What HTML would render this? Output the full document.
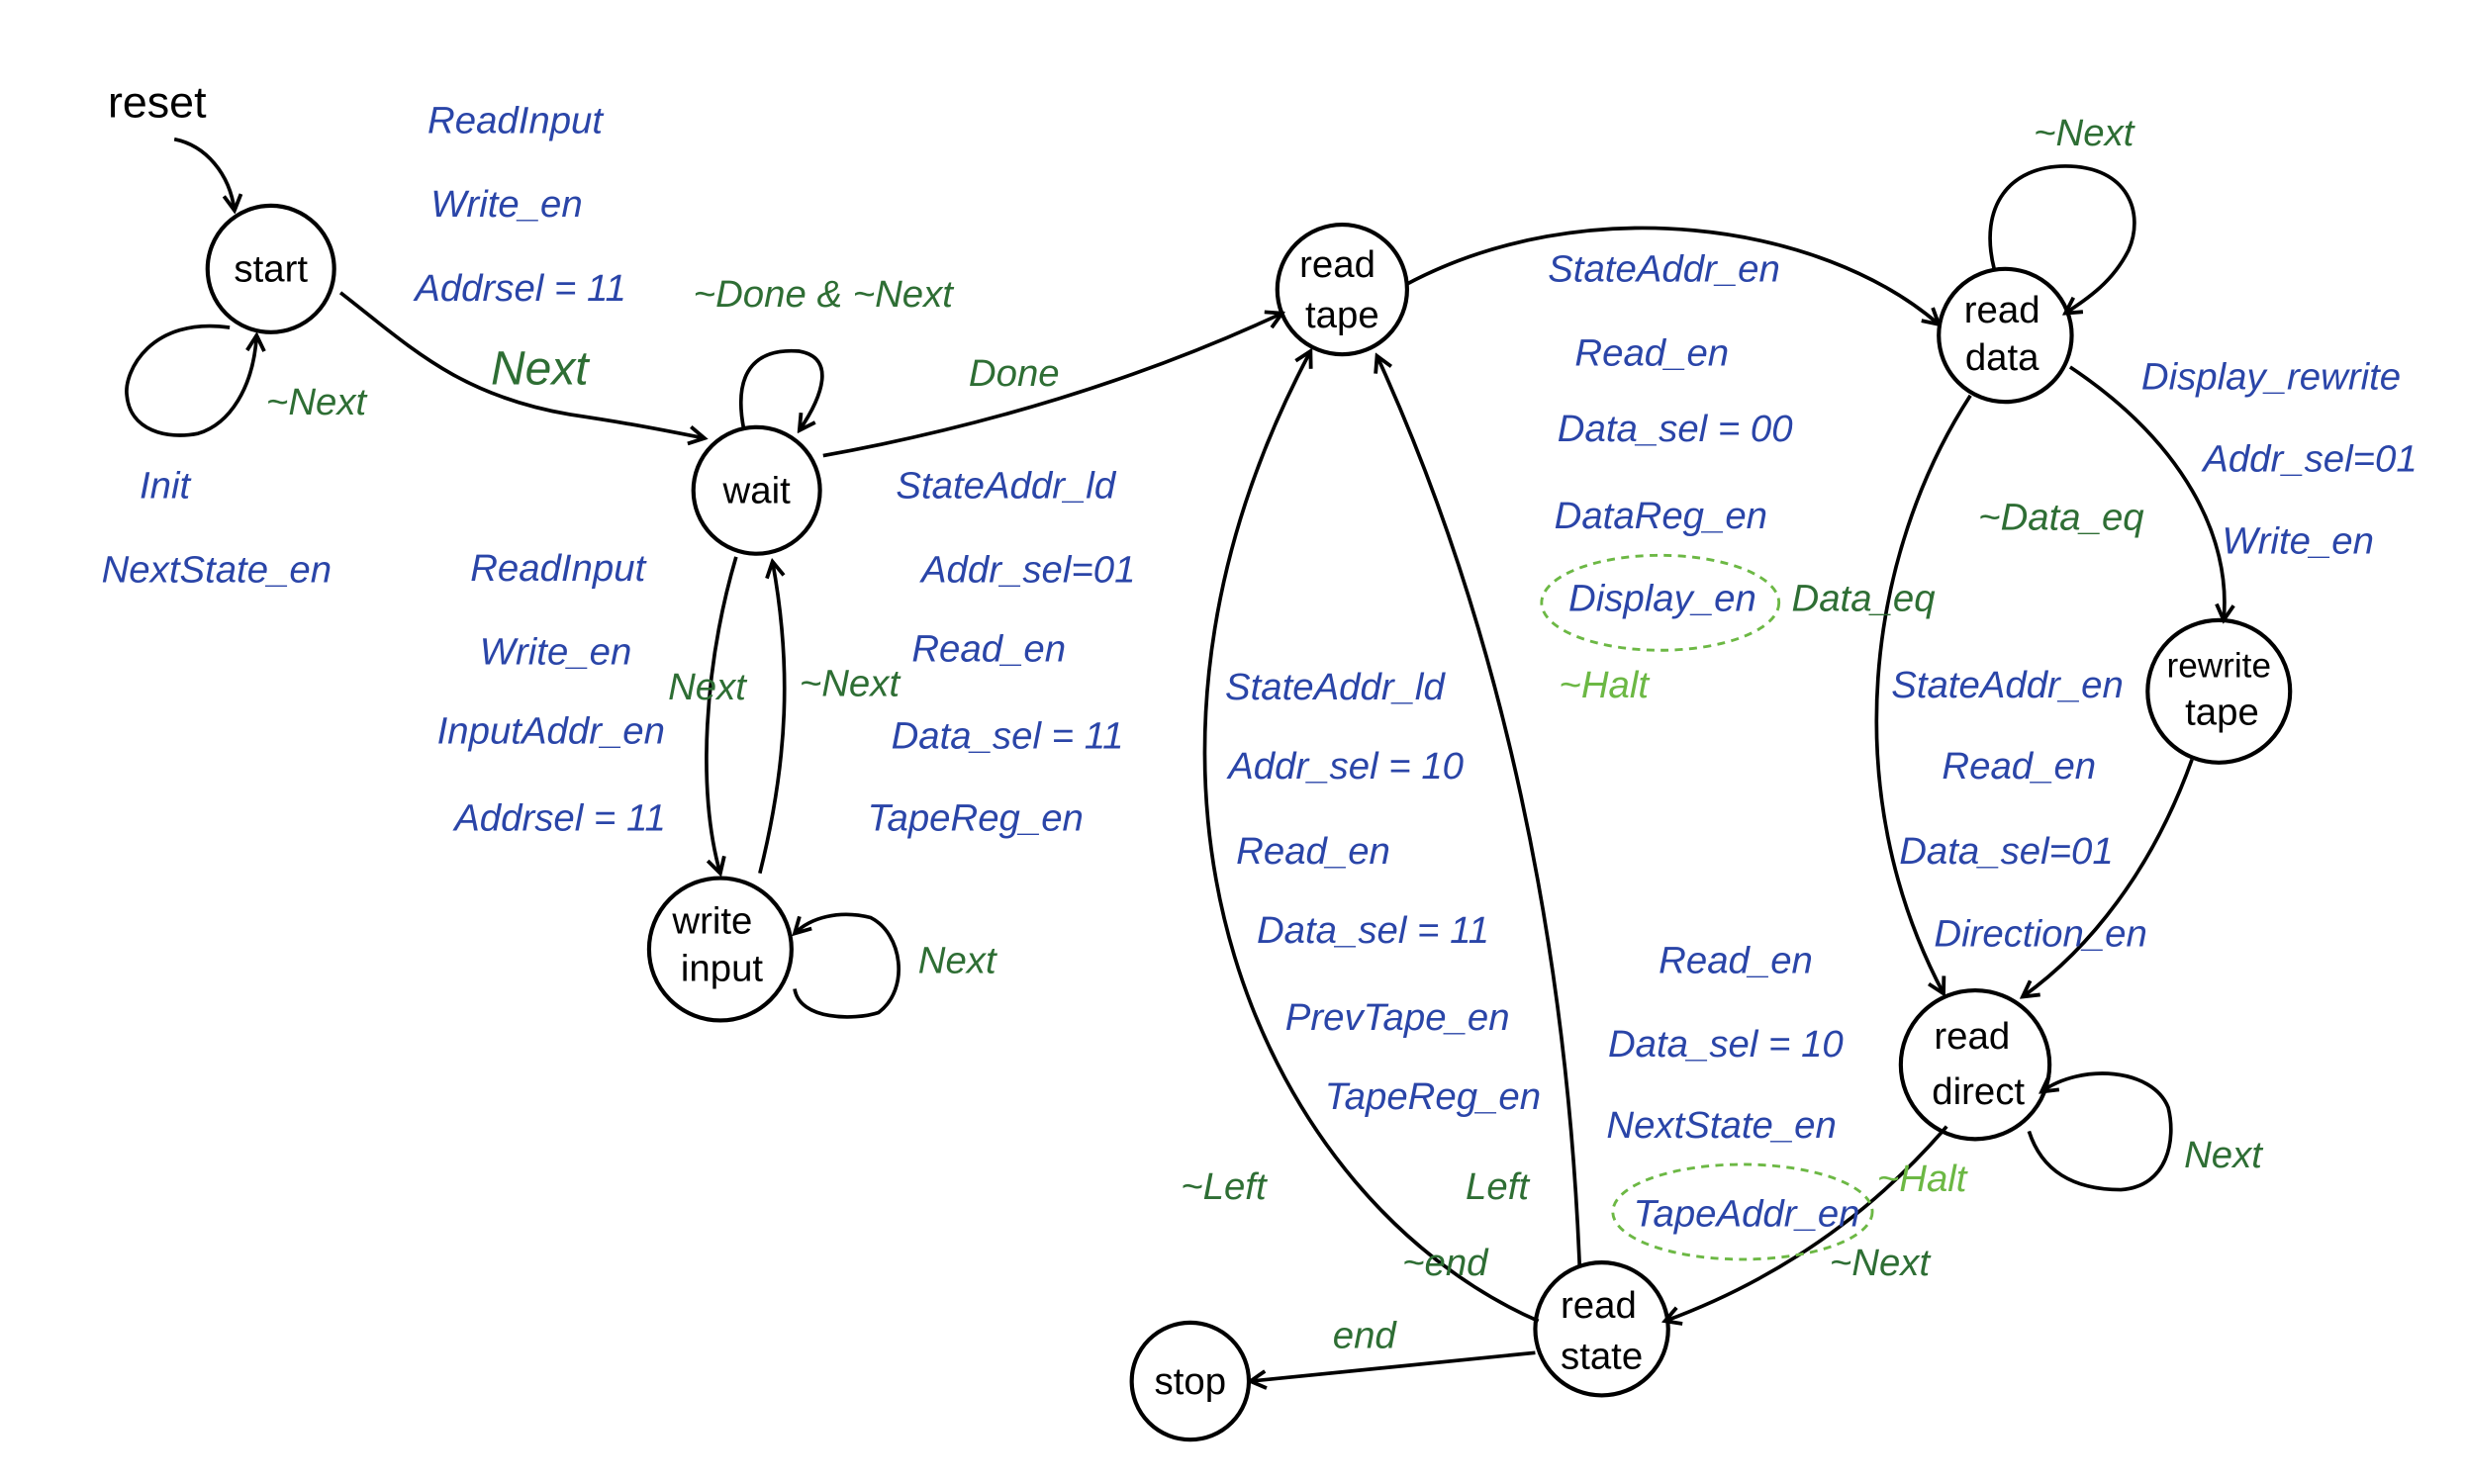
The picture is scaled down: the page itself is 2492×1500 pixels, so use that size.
<!DOCTYPE html>
<html><head><meta charset="utf-8"><style>
html,body{margin:0;padding:0;background:#fff;}
svg{display:block;}
text{font-family:"Liberation Sans",sans-serif;font-size:24px;font-style:italic;}
.b{fill:#2a45a8;}
.g{fill:#2e6e34;}
.lg{fill:#6cb844;}
.k{fill:#000;font-style:normal;}
</style></head><body>
<svg width="2492" height="1500" viewBox="0 0 1558 938" xmlns="http://www.w3.org/2000/svg">
<defs><marker id="a" viewBox="0 0 12 12" refX="10" refY="6" markerWidth="13" markerHeight="13" orient="auto" markerUnits="userSpaceOnUse"><path d="M1,1 L10,6 L1,11" fill="none" stroke="#000" stroke-width="2.2"/></marker></defs>
<g fill="none" stroke="#000" stroke-width="2.6">
<circle cx="171" cy="170" r="40"/>
<circle cx="478" cy="310" r="40"/>
<circle cx="455" cy="600" r="45"/>
<circle cx="848" cy="183" r="41"/>
<circle cx="1267" cy="212" r="42"/>
<circle cx="1402" cy="437" r="45"/>
<circle cx="1248" cy="673" r="47"/>
<circle cx="1012" cy="840" r="42"/>
<circle cx="752" cy="873" r="37"/>
</g>
<g fill="none" stroke="#000" stroke-width="2.3" marker-end="url(#a)">
<path d="M110,88 C130,92 145,110 148,133"/>
<path d="M145,207 C95,200 78,235 80,250 C82,272 105,278 125,274 C145,268 160,245 162,212"/>
<path d="M215,185 C260,220 290,250 360,262 C400,268 420,272 445,277"/>
<path d="M470,272 C462,232 480,220 505,222 C528,226 520,250 505,272"/>
<path d="M465,352 C445,420 440,500 455,552"/>
<path d="M480,552 C498,480 500,420 488,355"/>
<path d="M502,625 C505,645 540,645 555,640 C575,625 570,590 550,580 C530,575 512,580 502,590"/>
<path d="M520,288 C620,270 720,240 810,198"/>
<path d="M888,180 C1000,120 1150,140 1225,205"/>
<path d="M1260,170 C1250,130 1270,105 1305,105 C1345,105 1355,135 1345,158 C1335,178 1320,188 1305,198"/>
<path d="M1308,232 C1380,280 1410,340 1405,392"/>
<path d="M1245,250 C1180,350 1160,500 1228,628"/>
<path d="M1385,480 C1360,550 1320,600 1278,630"/>
<path d="M1282,715 C1290,740 1310,752 1340,752 C1370,750 1375,720 1370,700 C1360,675 1315,672 1290,690"/>
<path d="M1230,712 C1180,770 1120,810 1052,835"/>
<path d="M972,835 C800,760 680,500 828,222"/>
<path d="M998,800 C990,600 950,400 870,225"/>
<path d="M970,855 L790,873"/>
</g>
<g fill="none" stroke="#6cb844" stroke-width="1.8" stroke-dasharray="5,4">
<ellipse cx="1049" cy="381" rx="75" ry="30"/>
<ellipse cx="1101" cy="766" rx="82" ry="30"/>
</g>
<g text-anchor="middle">
<text class="k" x="171" y="178">start</text>
<text class="k" x="478" y="318">wait</text>
<text class="k" x="450" y="590">write</text>
<text class="k" x="456" y="620">input</text>
<text class="k" x="845" y="175">read</text>
<text class="k" x="848" y="207">tape</text>
<text class="k" x="1265" y="204">read</text>
<text class="k" x="1265" y="234">data</text>
<text class="k" x="1402" y="428" style="font-size:22px">rewrite</text>
<text class="k" x="1404" y="458">tape</text>
<text class="k" x="1246" y="663">read</text>
<text class="k" x="1250" y="698">direct</text>
<text class="k" x="1010" y="833">read</text>
<text class="k" x="1012" y="865">state</text>
<text class="k" x="752" y="881">stop</text>
</g>
<text class="k" x="68" y="74" style="font-size:28px">reset</text>
<text class="b" x="270" y="84">ReadInput</text>
<text class="b" x="272" y="137">Write_en</text>
<text class="b" x="262" y="190">Addrsel = 11</text>
<text class="g" x="310" y="243" style="font-size:30px">Next</text>
<text class="g" x="168" y="262">~Next</text>
<text class="b" x="88" y="315">Init</text>
<text class="b" x="64" y="368">NextState_en</text>
<text class="g" x="438" y="194">~Done &amp; ~Next</text>
<text class="g" x="612" y="244">Done</text>
<text class="b" x="297" y="367">ReadInput</text>
<text class="b" x="303" y="420">Write_en</text>
<text class="b" x="276" y="470">InputAddr_en</text>
<text class="b" x="287" y="525">Addrsel = 11</text>
<text class="g" x="422" y="442">Next</text>
<text class="g" x="505" y="440">~Next</text>
<text class="g" x="580" y="615">Next</text>
<text class="b" x="566" y="315">StateAddr_ld</text>
<text class="b" x="582" y="368">Addr_sel=01</text>
<text class="b" x="576" y="418">Read_en</text>
<text class="b" x="563" y="473">Data_sel = 11</text>
<text class="b" x="548" y="525">TapeReg_en</text>
<text class="b" x="978" y="178">StateAddr_en</text>
<text class="b" x="995" y="231">Read_en</text>
<text class="b" x="984" y="279">Data_sel = 00</text>
<text class="b" x="982" y="334">DataReg_en</text>
<text class="b" x="991" y="386">Display_en</text>
<text class="g" x="1132" y="386">Data_eq</text>
<text class="lg" x="985" y="441">~Halt</text>
<text class="g" x="1285" y="92">~Next</text>
<text class="b" x="1353" y="246">Display_rewrite</text>
<text class="b" x="1392" y="298">Addr_sel=01</text>
<text class="b" x="1404" y="350">Write_en</text>
<text class="g" x="1250" y="335">~Data_eq</text>
<text class="b" x="1195" y="441">StateAddr_en</text>
<text class="b" x="1227" y="492">Read_en</text>
<text class="b" x="1200" y="546">Data_sel=01</text>
<text class="b" x="1222" y="598">Direction_en</text>
<text class="g" x="1380" y="738">Next</text>
<text class="b" x="774" y="442">StateAddr_ld</text>
<text class="b" x="776" y="492">Addr_sel = 10</text>
<text class="b" x="781" y="546">Read_en</text>
<text class="b" x="794" y="596">Data_sel = 11</text>
<text class="b" x="812" y="651">PrevTape_en</text>
<text class="b" x="837" y="701">TapeReg_en</text>
<text class="b" x="1048" y="615">Read_en</text>
<text class="b" x="1016" y="668">Data_sel = 10</text>
<text class="b" x="1015" y="719">NextState_en</text>
<text class="b" x="1032" y="775">TapeAddr_en</text>
<text class="lg" x="1186" y="753">~Halt</text>
<text class="g" x="1156" y="806">~Next</text>
<text class="g" x="746" y="758">~Left</text>
<text class="g" x="926" y="758">Left</text>
<text class="g" x="886" y="806">~end</text>
<text class="g" x="842" y="852">end</text>
</svg>
</body></html>
